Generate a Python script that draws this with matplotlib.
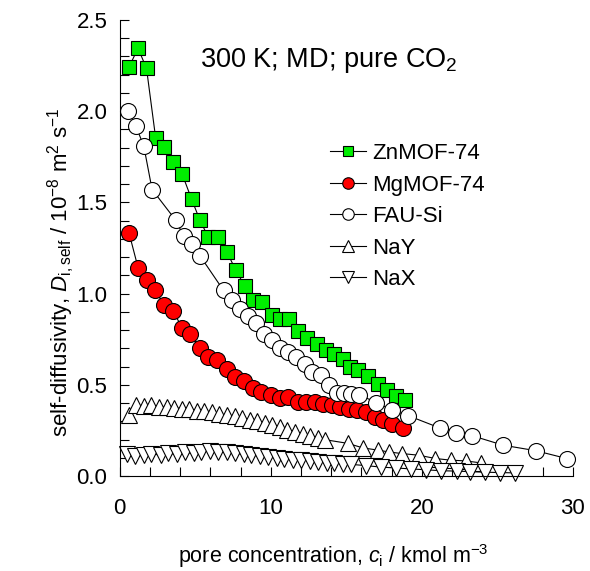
import matplotlib
matplotlib.use("Agg")
import matplotlib.pyplot as plt
from matplotlib.ticker import MultipleLocator

plt.rcParams.update({
    "font.family": "Liberation Sans",
    "mathtext.fontset": "custom",
    "mathtext.rm": "Liberation Sans",
    "mathtext.it": "Liberation Sans:italic",
    "font.size": 16,
})

# ZnMOF-74
zn_c = [0.62, 1.21, 1.77, 2.38, 2.93, 3.53, 4.13, 4.75, 5.30, 5.85, 6.51, 7.11, 7.68, 8.28,
        8.83, 9.42, 10.05, 10.60, 11.21, 11.81, 12.40, 13.03, 13.64, 14.19, 14.79, 15.23,
        15.78, 16.44, 17.07, 17.66, 18.28, 18.87]
zn_d = [2.244, 2.345, 2.235, 1.851, 1.805, 1.723, 1.656, 1.519, 1.404, 1.312, 1.309, 1.226,
        1.129, 1.042, 0.965, 0.952, 0.883, 0.859, 0.861, 0.795, 0.755, 0.724, 0.691, 0.669,
        0.645, 0.599, 0.581, 0.548, 0.508, 0.471, 0.439, 0.417]

# MgMOF-74
mg_c = [0.62, 1.21, 1.79, 2.36, 2.93, 3.51, 4.15, 4.68, 5.30, 5.85, 6.44, 7.07, 7.62, 8.21,
        8.83, 9.38, 9.98, 10.60, 11.15, 11.77, 12.36, 12.91, 13.46, 14.02, 14.60, 15.18,
        15.70, 16.29, 16.89, 17.44, 18.03, 18.76]
mg_d = [1.331, 1.143, 1.075, 1.018, 0.938, 0.904, 0.813, 0.782, 0.700, 0.654, 0.636, 0.587,
        0.544, 0.521, 0.486, 0.459, 0.444, 0.426, 0.435, 0.407, 0.407, 0.404, 0.395, 0.389,
        0.380, 0.371, 0.363, 0.353, 0.325, 0.307, 0.285, 0.262]

# FAU-Si
fau_c = [0.55, 1.06, 1.59, 2.14, 3.71, 4.24, 4.78, 5.31, 6.87, 7.45, 7.98, 8.50, 9.05, 9.54,
         10.09, 10.60, 11.15, 11.66, 12.25, 12.76, 13.31, 13.86, 14.39, 14.85, 15.28, 15.85,
         16.99, 18.03, 19.09, 21.17, 22.23, 23.29, 25.38, 27.53, 29.64]
fau_d = [2.003, 1.920, 1.809, 1.571, 1.402, 1.314, 1.274, 1.208, 1.018, 0.965, 0.914, 0.876,
         0.837, 0.782, 0.746, 0.703, 0.681, 0.651, 0.614, 0.572, 0.554, 0.499, 0.457, 0.455,
         0.453, 0.447, 0.403, 0.362, 0.332, 0.265, 0.238, 0.223, 0.170, 0.140, 0.096]

# NaY
nay_c = [0.6, 1.1, 1.6, 2.1, 2.6, 3.1, 3.6, 4.1, 4.6, 5.1, 5.6, 6.1, 6.6, 7.1, 7.6, 8.1, 8.6,
         9.1, 9.6, 10.1, 10.6, 11.1, 11.6, 12.1, 12.6, 13.1, 13.6, 15.1, 16.1, 17.1, 17.8,
         18.7, 19.8, 20.9, 21.9, 22.9, 23.9]
nay_d = [0.335, 0.390, 0.385, 0.388, 0.380, 0.382, 0.375, 0.370, 0.368, 0.360, 0.355, 0.350,
         0.340, 0.333, 0.328, 0.318, 0.310, 0.300, 0.290, 0.280, 0.268, 0.255, 0.240, 0.230,
         0.222, 0.212, 0.200, 0.180, 0.155, 0.143, 0.133, 0.124, 0.115, 0.097, 0.088, 0.084,
         0.073]

# NaX
nax_c = [0.5, 1.0, 1.6, 2.1, 2.7, 3.2, 3.8, 4.3, 4.9, 5.4, 6.0, 6.5, 7.1, 7.6, 8.2, 8.7, 9.3,
         9.8, 10.4, 10.9, 11.5, 12.0, 12.6, 13.1, 13.7, 14.2, 14.8, 15.3, 16.3, 17.3, 18.3,
         19.3, 20.3, 21.3, 22.3, 23.2, 24.2, 25.2, 26.2]
nax_d = [0.120, 0.110, 0.115, 0.120, 0.118, 0.125, 0.120, 0.130, 0.125, 0.130, 0.140, 0.135,
         0.130, 0.125, 0.120, 0.115, 0.110, 0.105, 0.100, 0.095, 0.090, 0.088, 0.085, 0.080,
         0.075, 0.072, 0.068, 0.065, 0.058, 0.050, 0.045, 0.040, 0.035, 0.030, 0.028, 0.025,
         0.022, 0.020, 0.018]

fig = plt.figure(figsize=(5.9, 5.71), dpi=100)
ax = fig.add_axes([0.203, 0.166, 0.768, 0.799])

kw = dict(color="black", lw=0.8, markeredgecolor="black", markeredgewidth=0.8, clip_on=False)
ax.plot(zn_c, zn_d, marker="s", ms=10.5, markerfacecolor="#00ee00", label="ZnMOF-74", **kw)
ax.plot(mg_c, mg_d, marker="o", ms=11.5, markerfacecolor="#ff0000", label="MgMOF-74", **kw)
ax.plot(fau_c, fau_d, marker="o", ms=11.5, markerfacecolor="white", label="FAU-Si", **kw)
ax.plot(nay_c, nay_d, marker="^", ms=11.5, markerfacecolor="white", label="NaY", **kw)
ax.plot(nax_c, nax_d, marker="v", ms=11.5, markerfacecolor="white", label="NaX", **kw)

ax.set_xlim(0, 30)
ax.set_ylim(0, 2.5)
ax.xaxis.set_major_locator(MultipleLocator(10))
ax.xaxis.set_minor_locator(MultipleLocator(2))
ax.yaxis.set_major_locator(MultipleLocator(0.5))
ax.yaxis.set_minor_locator(MultipleLocator(0.1))
ax.tick_params(which="both", direction="in", length=6.5, width=0.8, labelsize=16)
ax.tick_params(axis="x", which="major", pad=16)
ax.tick_params(axis="y", which="major", pad=9)
ax.yaxis.set_major_formatter(plt.FuncFormatter(lambda v, p: f"{v:.1f}"))
for s in ["top", "right"]:
    ax.spines[s].set_visible(False)

ax.set_xlabel(r"pore concentration, $c_{\rm i}$ / kmol m$^{-3}$", fontsize=15.5)
ax.set_ylabel(r"self-diffusivity, $D_{\rm i,self}$ / 10$^{-8}$ m$^{2}$ s$^{-1}$",
              fontsize=16)
ax.xaxis.set_label_coords(0.472, -0.145)
ax.yaxis.set_label_coords(-0.094, 0.447)

ax.text(0.177, 0.912, r"300 K; MD; pure CO$_2$", transform=ax.transAxes, fontsize=19.5,
        ha="left", va="center")

ax.legend(loc="upper left", bbox_to_anchor=(0.464, 0.73), frameon=False, fontsize=16,
          markerscale=0.72, handlelength=1.6, handletextpad=0.3, labelspacing=0.47,
          borderaxespad=0, borderpad=0)

fig.savefig("out.png", dpi=100)
